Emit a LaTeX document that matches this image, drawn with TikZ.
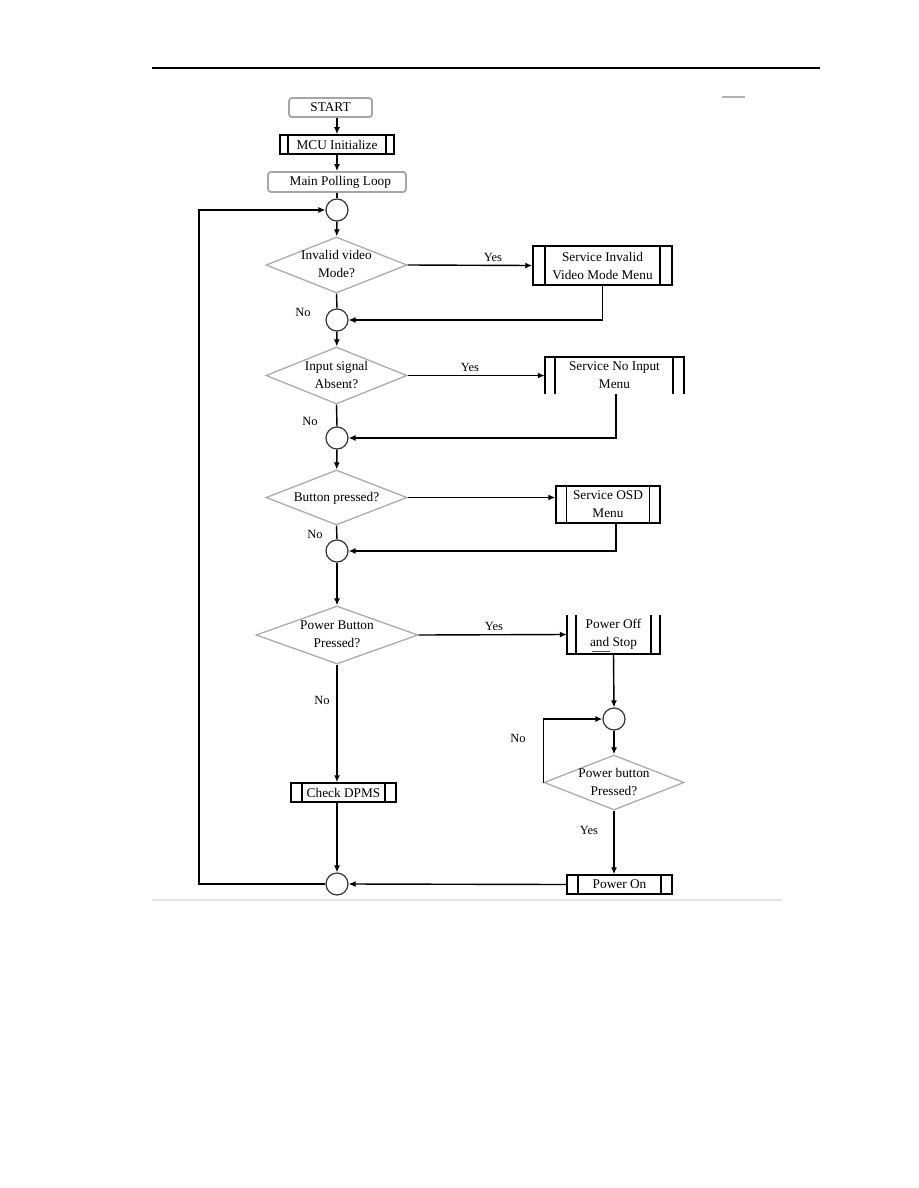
\documentclass[tikz,border=0pt]{standalone}
\usepackage{fontspec}
\setmainfont{Liberation Serif}
\usetikzlibrary{shapes.geometric,arrows.meta}
\newcommand\dtxt[1]{\makebox[0pt]{\begin{tabular}{@{}c@{}}#1\end{tabular}}}
\def\ppoff{11pt}
\tikzset{
  every node/.style={font=\fontsize{13.3}{18}\selectfont},
  ln/.style={line width=1.4pt},
  arr/.style={line width=1.4pt,-{Latex[length=7pt,width=6pt]}},
  term/.style={draw=gray!70,line width=1.8pt,rounded corners=3pt,inner sep=0pt,align=center},
  pp/.code={\def\ppoff{#1}},
  proc/.style={draw,line width=1.5pt,inner sep=0pt,align=center,
    path picture={\draw[line width=1.5pt]
      ([xshift=\ppoff]path picture bounding box.north west) -- ([xshift=\ppoff]path picture bounding box.south west)
      ([xshift=-\ppoff]path picture bounding box.north east) -- ([xshift=-\ppoff]path picture bounding box.south east);}},
  openbox/.style={inner sep=0pt,align=center},
  dec/.style={diamond,draw=gray!65,line width=1.3pt,inner sep=0pt,aspect=2.5},
  junc/.style={circle,draw=black!80,line width=1.2pt,minimum size=22pt,inner sep=0pt},
  lab/.style={font=\fontsize{12.5}{14}\selectfont,inner sep=0pt}
}
\begin{document}
\begin{tikzpicture}[x=1pt,y=-1pt]
\useasboundingbox (0,0) rectangle (918,1188);
% page rules
\coordinate (r1) at (152,68); \coordinate (r2) at (820,68);
\draw[line width=1.2pt] (r1) -- (r2);
\coordinate (g1) at (722,97); \coordinate (g2) at (745,97);
\draw[gray!60,line width=1.4pt] (g1) -- (g2);
\coordinate (f1) at (152,900); \coordinate (f2) at (782,900);
\draw[gray!20,line width=1.8pt] (f1) -- (f2);

% main column
\node[term,minimum width=83pt,minimum height=19pt] (start) at (330.5,107.5) {START};
\node[proc,pp=8pt,minimum width=114pt,minimum height=19pt] (mcu) at (337,144.5) {MCU Initialize};
\node[term,minimum width=138pt,minimum height=20pt] (mpl) at (337,182) {\ \ Main Polling Loop};
\node[junc] (c1) at (337,210) {};
\node[dec,minimum width=141pt,minimum height=56pt] (d1) at (336.5,265) {\dtxt{Invalid video\\Mode?}};
\node[proc,pp=12pt,minimum width=139pt,minimum height=39pt] (b1) at (602.5,265.5) {Service Invalid\\Video Mode Menu};
\node[junc] (c2) at (337,320) {};
\node[dec,minimum width=141pt,minimum height=57pt] (d2) at (336.5,375.5) {\dtxt{Input signal\\Absent?}};
\node[openbox,minimum width=139pt,minimum height=37pt] (b2) at (614.5,375.5) {Service No Input\\Menu};
\draw[line width=1.5pt] (b2.south west) -- (b2.north west) -- (b2.north east) -- (b2.south east)
  ([xshift=10pt]b2.north west) -- ([xshift=10pt]b2.south west)
  ([xshift=-11pt]b2.north east) -- ([xshift=-11pt]b2.south east);
\node[junc] (c3) at (337,438) {};
\node[dec,minimum width=141pt,minimum height=55pt] (d3) at (336.5,497.5) {\dtxt{Button pressed?}};
\node[proc,pp=10.5pt,minimum width=104pt,minimum height=37pt] (b3) at (608,504.5) {Service OSD\\Menu};
\node[junc] (c4) at (337,551) {};
\node[dec,minimum width=162pt,minimum height=58pt] (d4) at (337,635) {\dtxt{Power Button\\Pressed?}};
\node[openbox,minimum width=93pt,minimum height=39pt] (b4) at (613.5,634.5) {Power Off\\and Stop};
\draw[line width=1.5pt] (b4.north west) -- (b4.south west) -- (b4.south east) -- (b4.north east)
  ([xshift=9pt]b4.north west) -- ([xshift=9pt]b4.south west)
  ([xshift=-9pt]b4.north east) -- ([xshift=-9pt]b4.south east);
\coordinate (u1) at (592,651); \coordinate (u2) at (610,651);
\draw[green!55!black,line width=0.9pt] (u1) -- (u2);
\node[junc] (c5) at (614,719) {};
\node[dec,minimum width=140pt,minimum height=55pt] (d5) at (614,782.5) {\dtxt{Power button\\Pressed?}};
\node[proc,pp=11pt,minimum width=105pt,minimum height=19pt] (pon) at (619.5,884.5) {Power On};
\node[proc,pp=11pt,minimum width=105pt,minimum height=19pt] (dpms) at (343.5,792.5) {Check DPMS};
\node[junc] (c6) at (337,884) {};

% connectors
\draw[arr] (start.south -| 337,0) -- (mcu.north);
\draw[arr] (mcu) -- (mpl);
\draw[ln] (mpl) -- (c1);
\draw[arr] (c1) -- (d1);
\draw[arr] (d1.east) -- (b1.west);
\draw[arr] (b1.south) |- (c2.east);
\draw[ln] (d1.south) -- (c2.north);
\draw[arr] (c2) -- (d2);
\draw[arr] (d2.east) -- (b2.west);
\draw[arr] ([xshift=1.5pt]b2.south) |- (c3.east);
\draw[ln] (d2.south) -- (c3.north);
\draw[arr] (c3) -- (d3);
\draw[arr] (d3.east) -- (b3.west |- d3.east);
\draw[arr] ([xshift=8pt]b3.south) |- (c4.east);
\draw[ln] (d3.south) -- (c4.north);
\draw[arr] (c4) -- (d4);
\draw[arr] (d4.east) -- (b4.west);
\draw[arr] (b4.south) -- (c5.north);
\draw[arr] (c5) -- (d5);
\draw[arr] (d5.west) |- (c5.west);
\draw[arr] (d5.south) -- (d5.south |- pon.north);
\draw[arr] (pon.west) -- (c6.east);
\draw[arr] (d4.south) -- (d4.south |- dpms.north);
\draw[arr] (c6.north |- dpms.south) -- (c6.north);
\coordinate (lp) at (199,884);
\draw[arr] (c6.west) -- (lp) |- (c1.west);

% labels
\node[lab] (y1) at (493,257) {Yes};
\node[lab] (y2) at (470,367) {Yes};
\node[lab] (y3) at (494,626) {Yes};
\node[lab] (y5) at (589,830) {Yes};
\node[lab] (n1) at (303,312) {No};
\node[lab] (n2) at (310,421) {No};
\node[lab] (n3) at (315,534) {No};
\node[lab] (n4) at (322,700) {No};
\node[lab] (n5) at (518,738) {No};
\end{tikzpicture}
\end{document}
